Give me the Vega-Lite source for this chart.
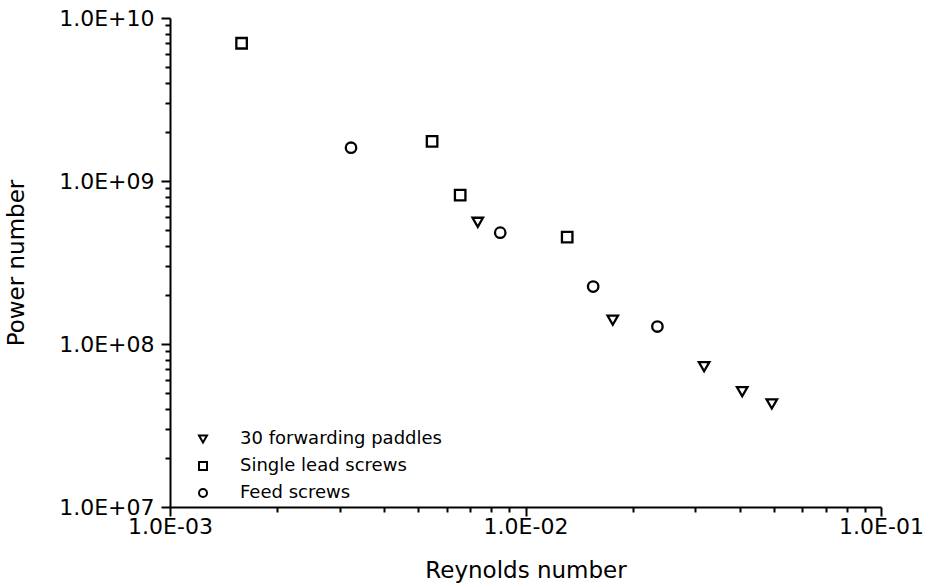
{
  "$schema": "https://vega.github.io/schema/vega-lite/v6.json",
  "autosize": "none",
  "width": 711,
  "height": 489,
  "padding": {"left": 170, "top": 18, "right": 53, "bottom": 80},
  "background": "white",
  "config": {
    "view": {"stroke": null},
    "font": "DejaVu Sans",
    "axis": {
      "domainColor": "black",
      "domainWidth": 2,
      "tickColor": "black",
      "tickWidth": 2,
      "grid": false,
      "labelFont": "DejaVu Sans",
      "labelFontSize": 22,
      "labelColor": "black",
      "titleFont": "DejaVu Sans",
      "titleFontSize": 23,
      "titleFontWeight": "normal",
      "titleColor": "black",
      "labelOverlap": false,
      "labelFlush": false
    }
  },
  "data": {
    "values": [
      {"series": "Single lead screws", "re": 0.00159, "np": 7.0e9},
      {"series": "Feed screws", "re": 0.00323, "np": 1.6e9},
      {"series": "Single lead screws", "re": 0.00546, "np": 1.75e9},
      {"series": "Single lead screws", "re": 0.00655, "np": 8.2e8},
      {"series": "30 forwarding paddles", "re": 0.00734, "np": 5.58e8},
      {"series": "Feed screws", "re": 0.00849, "np": 4.82e8},
      {"series": "Single lead screws", "re": 0.0131, "np": 4.53e8},
      {"series": "Feed screws", "re": 0.0155, "np": 2.25e8},
      {"series": "30 forwarding paddles", "re": 0.0176, "np": 1.4e8},
      {"series": "Feed screws", "re": 0.0235, "np": 1.28e8},
      {"series": "30 forwarding paddles", "re": 0.0318, "np": 7.26e7},
      {"series": "30 forwarding paddles", "re": 0.0407, "np": 5.1e7},
      {"series": "30 forwarding paddles", "re": 0.0493, "np": 4.29e7}
    ]
  },
  "mark": {"type": "point", "filled": false, "color": "black", "strokeWidth": 2.3, "size": 110, "opacity": 1},
  "encoding": {
    "x": {
      "field": "re",
      "type": "quantitative",
      "title": "Reynolds number",
      "scale": {"type": "log", "domain": [0.001, 0.1], "nice": false},
      "axis": {
        "values": [0.001, 0.002, 0.003, 0.004, 0.005, 0.006, 0.007, 0.008, 0.009, 0.01, 0.02, 0.03, 0.04, 0.05, 0.06, 0.07, 0.08, 0.09, 0.1],
        "labelExpr": "abs(log(datum.value)/LN10 - round(log(datum.value)/LN10)) < 0.001 ? '1.0E-0' + (-round(log(datum.value)/LN10)) : ''",
        "tickSize": {"condition": {"test": "abs(log(datum.value)/LN10 - round(log(datum.value)/LN10)) < 0.001", "value": 9}, "value": 5},
        "labelPadding": 0,
        "titlePadding": 22
      }
    },
    "y": {
      "field": "np",
      "type": "quantitative",
      "title": "Power number",
      "scale": {"type": "log", "domain": [1e7, 1e10], "nice": false},
      "axis": {
        "values": [1e7, 2e7, 3e7, 4e7, 5e7, 6e7, 7e7, 8e7, 9e7, 1e8, 2e8, 3e8, 4e8, 5e8, 6e8, 7e8, 8e8, 9e8, 1e9, 2e9, 3e9, 4e9, 5e9, 6e9, 7e9, 8e9, 9e9, 1e10],
        "labelExpr": "abs(log(datum.value)/LN10 - round(log(datum.value)/LN10)) < 0.001 ? '1.0E+' + (round(log(datum.value)/LN10) < 10 ? '0' : '') + round(log(datum.value)/LN10) : ''",
        "tickSize": {"condition": {"test": "abs(log(datum.value)/LN10 - round(log(datum.value)/LN10)) < 0.001", "value": 9}, "value": 5},
        "labelPadding": 7,
        "titlePadding": 30
      }
    },
    "shape": {
      "field": "series",
      "type": "nominal",
      "scale": {
        "domain": ["30 forwarding paddles", "Single lead screws", "Feed screws"],
        "range": ["triangle-down", "square", "circle"]
      },
      "legend": {
        "title": null,
        "orient": "none",
        "legendX": 24,
        "legendY": 412,
        "padding": 0,
        "symbolSize": 64,
        "symbolStrokeWidth": 2,
        "symbolStrokeColor": "black",
        "symbolFillColor": "transparent",
        "labelFont": "DejaVu Sans",
        "labelFontSize": 18,
        "labelColor": "black",
        "labelOffset": 28,
        "rowPadding": 9,
        "labelLimit": 400
      }
    }
  }
}
